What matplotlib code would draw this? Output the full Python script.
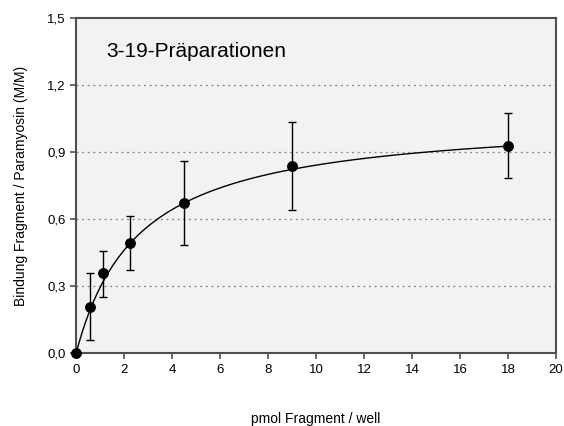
import numpy as np
import matplotlib
matplotlib.use('Agg')
import matplotlib.pyplot as plt
from matplotlib.ticker import FuncFormatter

plt.rcParams['font.family'] = ['Liberation Sans', 'DejaVu Sans']

# data
conc = [0.0, 0.5625, 1.125, 2.25, 4.5, 9.0, 18.0]
binding = [0.0, 0.206, 0.358, 0.493, 0.672, 0.837, 0.928]
err_low = [0.0, 0.145, 0.106, 0.121, 0.188, 0.197, 0.146]
err_high = [0.0, 0.151, 0.100, 0.121, 0.186, 0.199, 0.148]

# hyperbolic fit parameters (Bmax, Kd) estimated from the curve
bmax = 1.06
kd = 2.6

fig = plt.figure(figsize=(5.64, 4.26), dpi=100)
ax = fig.add_axes([0.135, 0.171, 0.851, 0.787])
ax.set_facecolor('#f2f2f2')

xs = np.linspace(0, 18, 300)
ax.plot(xs, bmax * xs / (kd + xs), color='black', linewidth=1.0, zorder=3)

ax.errorbar(conc, binding, yerr=[err_low, err_high], fmt='o', color='black',
            markersize=6.8, elinewidth=1.0, capsize=3, capthick=1.0, zorder=4,
            clip_on=False)

ax.set_xlim(0, 20)
ax.set_ylim(0, 1.5)
ax.set_xticks(range(0, 21, 2))
ax.set_yticks([0, 0.3, 0.6, 0.9, 1.2, 1.5])
ax.yaxis.set_major_formatter(FuncFormatter(lambda v, p: f'{v:.1f}'.replace('.', ',')))
for yv in [0.3, 0.6, 0.9, 1.2]:
    ax.axhline(yv, color='#808080', linewidth=0.9, linestyle=(0, (1.5, 3)), zorder=1)

for s in ax.spines.values():
    s.set_color('#505050')
    s.set_linewidth(1.5)
ax.tick_params(axis='both', labelsize=9.5, color='#505050', width=1.2, length=4)

ax.text(0.062, 0.9, '3-19-Präparationen', transform=ax.transAxes,
        fontsize=15, ha='left', va='center')

ax.set_xlabel('pmol Fragment / well', fontsize=10, labelpad=26)
ax.set_ylabel('Bindung Fragment / Paramyosin (M/M)', fontsize=10, labelpad=14)

fig.savefig('out.png', dpi=100)
